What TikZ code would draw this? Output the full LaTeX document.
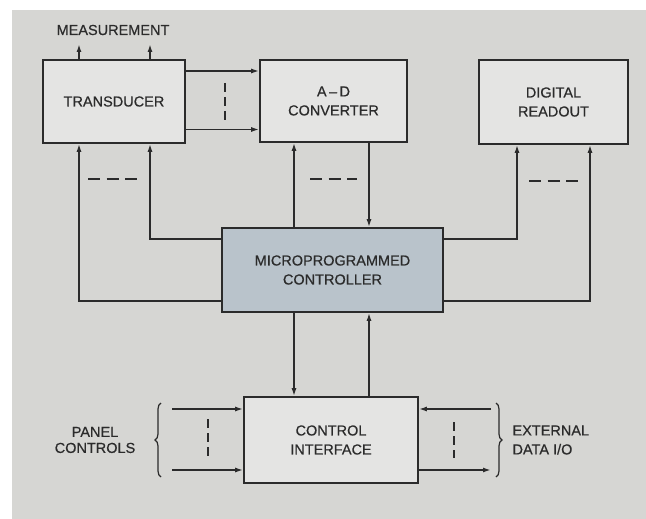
\documentclass[tikz,border=0pt]{standalone}
\usepackage{fontspec}
\setmainfont{Liberation Sans}[BoldFont=Liberation Sans, BoldFeatures={FakeBold=0.5}]
\usetikzlibrary{arrows.meta,decorations.pathreplacing}
\definecolor{bgpanel}{HTML}{D6D6D3}
\definecolor{boxfill}{HTML}{E4E4E3}
\definecolor{ctrlfill}{HTML}{B9C3CB}
\definecolor{ink}{HTML}{2B2B2B}
\begin{document}
\begin{tikzpicture}[x=1pt,y=-1pt,
  every node/.style={font=\fontsize{14.5}{19}\selectfont\bfseries, text=ink},
  blk/.style={draw=ink, line width=1.6pt, fill=boxfill, align=center, inner sep=0pt},
  arr/.style={draw=ink, line width=1.6pt, -{Latex[length=8pt,width=5pt]}},
  hdash/.style={draw=ink, line width=1.4pt, dash pattern=on 12pt off 6.5pt},
  vdash/.style={draw=ink, line width=1.4pt, dash pattern=on 9pt off 5pt},
  brc/.style={draw=ink, line width=1.2pt, decorate, decoration={brace, amplitude=6pt}}]
\useasboundingbox (0,0) rectangle (646,519);
\fill[white] (0,0) rectangle (646,519);
\fill[bgpanel] (12,10) rectangle (646,519);

% blocks
\node[blk, minimum width=142pt, minimum height=83pt] (td) at (114,101.5) {TRANSDUCER};
\node[blk, minimum width=147pt, minimum height=82pt] (ad) at (333.5,101) {A\,--\,D\\CONVERTER};
\node[blk, minimum width=149pt, minimum height=84pt] (dr) at (553.5,102) {DIGITAL\\READOUT};
\node[blk, fill=ctrlfill, minimum width=221pt, minimum height=84pt] (ctrl) at (332.5,270) {MICROPROGRAMMED\\CONTROLLER};
\node[blk, minimum width=174pt, minimum height=86pt] (ci) at (331,440) {CONTROL\\INTERFACE};

% labels
\node (meas) at (113,30) {MEASUREMENT};
\node[align=center, font=\fontsize{14.5}{16}\selectfont\bfseries] (panel) at (95,440) {PANEL\\CONTROLS};
\node[align=left, anchor=west] (ext) at (509,440) {EXTERNAL\\DATA I/O};

% measurement arrows
\path ([xshift=-35pt]td.north) coordinate (m1) ([xshift=36pt]td.north) coordinate (m2);
\coordinate (m1e) at (m1 |- 0,44);
\coordinate (m2e) at (m2 |- 0,44);
\draw[arr] (m1) -- (m1e);
\draw[arr] (m2) -- (m2e);

% transducer -> A-D
\path ([yshift=30.5pt]td.east) coordinate (t1) ([yshift=-28pt]td.east) coordinate (t2);
\draw[arr] (t1) -- (t1 -| ad.west);
\draw[arr] (t2) -- (t2 -| ad.west);
\draw[vdash] (225,83) -- (225,120);

% controller -> transducer
\draw[arr] ([yshift=-31pt]ctrl.west) -| ([xshift=-35pt]td.south);
\draw[arr] ([yshift=31pt]ctrl.west) -| ([xshift=36pt]td.south);
\draw[hdash] (88,179) -- (137,179);

% controller <-> A-D
\path ([xshift=-39.5pt]ad.south) coordinate (a1) ([xshift=35.5pt]ad.south) coordinate (a2);
\draw[arr] (a1 |- ctrl.north) -- (a1);
\draw[arr] (a2) -- (a2 |- ctrl.north);
\draw[hdash] (310,179) -- (357,179);

% controller -> readout
\draw[arr] ([yshift=31pt]ctrl.east) -| ([xshift=-36.5pt]dr.south);
\draw[arr] ([yshift=-31pt]ctrl.east) -| ([xshift=36.5pt]dr.south);
\draw[hdash] (529,181) -- (578,181);

% controller <-> interface
\path ([xshift=-37pt]ci.north) coordinate (c1) ([xshift=38pt]ci.north) coordinate (c2);
\draw[arr] (c1 |- ctrl.south) -- (c1);
\draw[arr] (c2) -- (c2 |- ctrl.south);

% panel controls
\coordinate (p1) at (172,409);
\coordinate (p2) at (172,470);
\draw[arr] (p1) -- (p1 -| ci.west);
\draw[arr] (p2) -- (p2 -| ci.west);
\draw[vdash] (208,419) -- (208,457);
\draw[brc] (161,477) -- (161,403);

% external data
\coordinate (e1) at (491,409);
\coordinate (e2) at (491,470);
\draw[arr] (e1) -- (e1 -| ci.east);
\draw[arr] (e2 -| ci.east) -- (e2);
\draw[vdash] (454,422) -- (454,458);
\draw[brc] (496,403) -- (496,477);
\end{tikzpicture}
\end{document}
